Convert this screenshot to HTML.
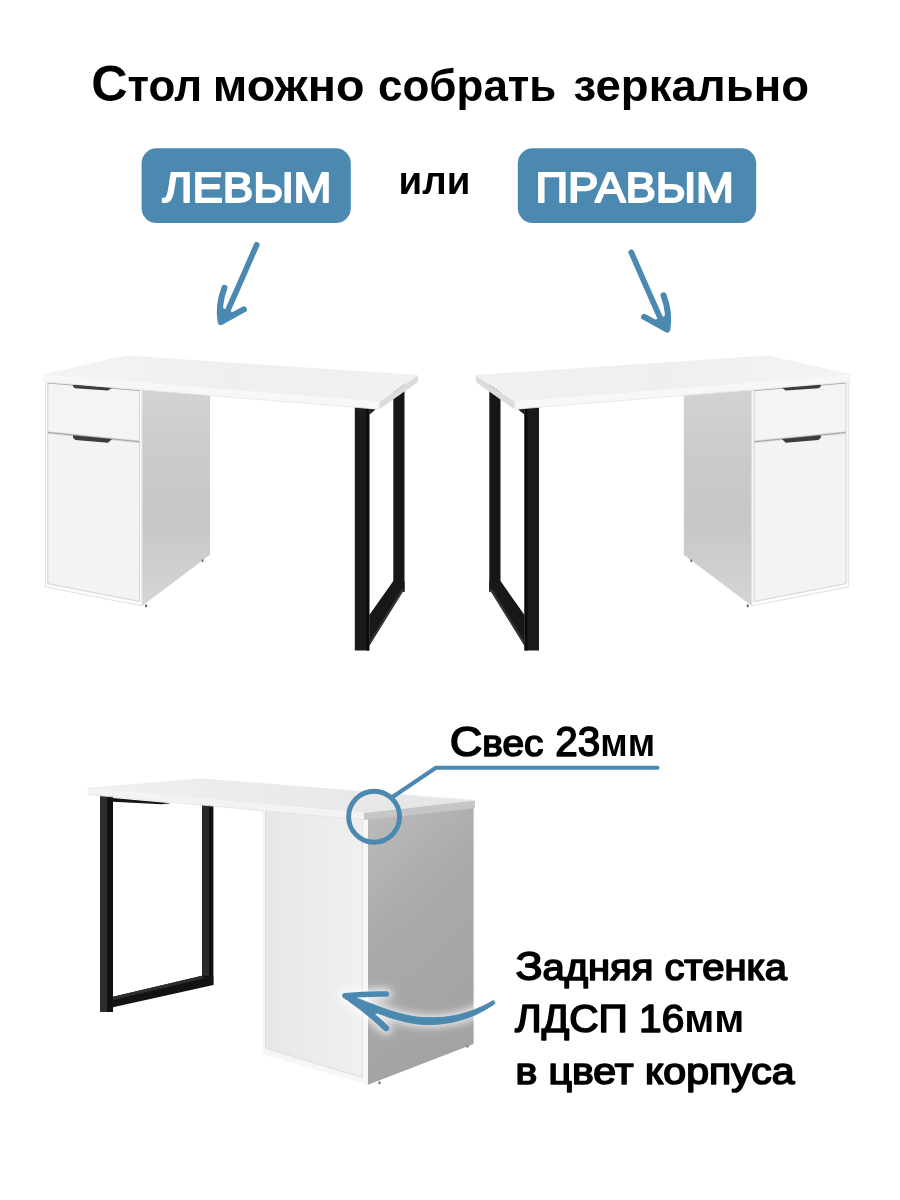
<!DOCTYPE html>
<html lang="ru">
<head>
<meta charset="utf-8">
<title>Стол</title>
<style>
html,body{margin:0;padding:0;background:#fff;}
body{width:900px;height:1200px;overflow:hidden;position:relative;font-family:"Liberation Sans",sans-serif;}
svg{position:absolute;left:0;top:0;display:block;will-change:transform;}
text{font-family:"Liberation Sans",sans-serif;font-weight:700;}
text.sb{font-weight:400;stroke:#fff;stroke-width:2px;stroke-linejoin:round;}
text.md{font-weight:400;stroke:#000;stroke-width:1.6px;stroke-linejoin:round;}
text.md .b{font-weight:700;stroke:none;}
</style>
</head>
<body>
<svg width="900" height="1200" viewBox="0 0 900 1200">
<defs>
  <linearGradient id="gSide" x1="0" y1="0" x2="0" y2="1">
    <stop offset="0" stop-color="#d3d3d3"/><stop offset="0.35" stop-color="#cacaca"/><stop offset="0.62" stop-color="#c7c7c7"/><stop offset="1" stop-color="#d5d5d5"/>
  </linearGradient>
  <linearGradient id="gBack" x1="0" y1="0" x2="0.35" y2="1">
    <stop offset="0" stop-color="#bcbcbc"/><stop offset="0.45" stop-color="#aaaaaa"/><stop offset="1" stop-color="#a3a3a3"/>
  </linearGradient>
  <linearGradient id="gTop" x1="0" y1="0" x2="1" y2="0">
    <stop offset="0" stop-color="#f4f4f4"/><stop offset="0.5" stop-color="#efefef"/><stop offset="1" stop-color="#f1f1f1"/>
  </linearGradient>
  <linearGradient id="gTop2" x1="0" y1="0" x2="1" y2="0">
    <stop offset="0" stop-color="#f1f1f1"/><stop offset="0.5" stop-color="#eaeaea"/><stop offset="1" stop-color="#e5e5e5"/>
  </linearGradient>
  <linearGradient id="gPanel" x1="0" y1="0" x2="1" y2="0">
    <stop offset="0" stop-color="#e7e7e7"/><stop offset="1" stop-color="#f0f0f0"/>
  </linearGradient>
  <filter id="glow" x="-20%" y="-50%" width="140%" height="200%">
    <feGaussianBlur stdDeviation="4"/>
  </filter>

  <!-- desk (left variant) -->
  <g id="desk">
    <!-- back leg + bottom bar + front leg -->
    <polygon points="393.3,392 404.5,384 404.5,591 393.3,591" fill="#161616"/>
    <polygon points="369.3,615 393.3,581 404.5,581 404.5,592 403,592 403,590.5 369.3,645.8" fill="#181818"/>
    <polygon points="369.3,641.5 402,588.5 404.2,589.8 369.3,645.8" fill="#343434"/>
    <rect x="354.8" y="405" width="14.5" height="245.5" fill="#1a1a1a"/>
    <rect x="366.3" y="405" width="3" height="245.5" fill="#0b0b0b"/>
    <polygon points="369.3,408.5 375.8,409.2 369.3,414.8" fill="#1e1e1e"/>
    <!-- side panel -->
    <polygon points="142,388 210,393 210,554.7 142,606" fill="url(#gSide)"/>
    <!-- feet -->
    <rect x="201.8" y="559.5" width="1.6" height="2.6" fill="#666"/>
    <rect x="145.2" y="604.5" width="1.8" height="2.6" fill="#555"/>
    <!-- cabinet front -->
    <polygon points="45.5,380 142,388 142,606 45.5,587" fill="#fbfbfb"/>
    <polygon points="45.5,380 142,388 142,606 45.5,587" fill="none" stroke="#e2e2e2" stroke-width="1"/>
    <!-- drawer & door outlines -->
    <polygon points="47.8,383 139.6,390.5 139.6,441 47.8,431.8" fill="#f4f4f4" stroke="#cbcbcb" stroke-width="0.8"/>
    <polygon points="47.8,433.2 139.6,442.6 139.6,601.5 47.8,583.6" fill="#f3f3f3" stroke="#cbcbcb" stroke-width="0.8"/>
    <polyline points="47.8,383 139.6,390.5" fill="none" stroke="#a8a8a8" stroke-width="0.9"/>
    <polyline points="47.8,432.5 139.6,441.8" fill="none" stroke="#a2a2a2" stroke-width="1.1"/>
    <!-- handles -->
    <polygon points="73,384.2 112,387.7 108,390.6 75,388.3 73,386.6" fill="#3c3c3c"/>
    <polygon points="73,435.2 112,439.1 108,442.7 75.5,439.9 73,437.9" fill="#3c3c3c"/>
    <!-- tabletop -->
    <polygon points="43,375 125.7,356 418,375.5 379.3,401.8" fill="url(#gTop)"/>
    <polygon points="43,375 379.3,401.8 379.3,409.3 43,381.8" fill="#f7f7f7"/>
    <polyline points="43,381.8 379.3,409.3" fill="none" stroke="#e6e6e6" stroke-width="0.8"/>
    <polygon points="379.3,401.8 418,375.5 418,382 379.3,409.3" fill="#dcdcdc"/>
    <polyline points="43,375 125.7,356 418,375.5" fill="none" stroke="#ededed" stroke-width="0.8"/>
  </g>
</defs>

<!-- title -->
<text id="w1" x="91.22" y="100.6" font-size="44" textLength="110.89" lengthAdjust="spacingAndGlyphs" fill="#000"><tspan font-size="50.5">С</tspan>тол</text>
<text id="w2" x="212.69" y="100.6" font-size="44" textLength="151.77" lengthAdjust="spacingAndGlyphs" fill="#000">можно</text>
<text id="w3" x="378.04" y="100.6" font-size="44" textLength="178.39" lengthAdjust="spacingAndGlyphs" fill="#000">собрать</text>
<text id="w4" x="573.51" y="100.6" font-size="44" textLength="235.45" lengthAdjust="spacingAndGlyphs" fill="#000">зеркально</text>

<!-- buttons -->
<rect x="141.6" y="148.3" width="209.2" height="74.8" rx="15" fill="#4c89b0"/>
<text x="162.5" y="202.2" font-size="42.4" textLength="169" lengthAdjust="spacingAndGlyphs" fill="#fff" class="sb">ЛЕВЫМ</text>
<text x="398.6" y="194" font-size="38.5" textLength="71.8" lengthAdjust="spacingAndGlyphs" fill="#000">или</text>
<rect x="517.8" y="148.3" width="238.4" height="74.8" rx="15" fill="#4c89b0"/>
<text x="535.4" y="202.2" font-size="42.4" textLength="198.5" lengthAdjust="spacingAndGlyphs" fill="#fff" class="sb">ПРАВЫМ</text>

<!-- arrows -->
<g id="arrL" fill="none" stroke="#4c89b0" stroke-linecap="round" stroke-linejoin="round">
  <path d="M256.7,244.8 Q241,281 224,319" stroke-width="5.7"/>
  <path d="M224.4,288 Q217.8,305 220.8,322 L243.8,309.4" stroke-width="6.2"/>
  <path d="M222,309 L221.5,320 L233,313.5 Z" fill="#4c89b0" stroke-width="2"/>
</g>
<use href="#arrL" transform="translate(888,7.5) scale(-1,1)"/>

<!-- desks -->
<use href="#desk"/>
<use href="#desk" transform="translate(893.8,0) scale(-1,1)"/>

<!-- bottom desk -->
<g id="desk2">
  <!-- legs -->
  <rect x="202" y="803" width="7.2" height="182" fill="#2a2a2a"/>
  <rect x="209" y="803" width="4.4" height="182" fill="#101010"/>
  <polygon points="113,996.8 202,975.8 213.4,975.8 213.4,985 113,1007.3" fill="#131313"/>
  <polygon points="113,996.8 202,975.8 204.5,978.2 113,1000" fill="#2e2e2e"/>
  <rect x="100" y="794" width="7.2" height="218" fill="#2d2d2d"/>
  <rect x="107" y="794" width="6" height="218" fill="#111"/>
  <polygon points="107,797.4 171,803.2 161.5,804.2 113,801.8" fill="#161616"/>
  <!-- cabinet side (white) -->
  <polygon points="262.5,806 368,816 368,1084.7 262.5,1054" fill="#f6f6f6"/>
  <polygon points="265.5,806 362.3,815.5 362.3,1077.5 265.5,1048.2" fill="url(#gPanel)" stroke="#d6d6d6" stroke-width="0.7"/>
  <!-- back panel (grey) -->
  <polygon points="368,818 473.6,806 473.6,1044 368,1084.7" fill="url(#gBack)"/>
  <rect x="378.5" y="1081.5" width="2" height="2.6" fill="#666"/>
  <rect x="466.5" y="1045" width="2" height="2.6" fill="#777"/>
  <!-- tabletop -->
  <polygon points="87.5,788.5 203,779 475,800.5 363.9,813" fill="url(#gTop2)"/>
  <polygon points="87.5,788.5 363.9,813 363.9,820 87.5,794.6" fill="#f3f3f3"/>
  <polyline points="87.5,794.6 363.9,820" fill="none" stroke="#e2e2e2" stroke-width="0.8"/>
  <polygon points="363.9,813 475,800.5 475,808.3 363.9,820" fill="#c6c6c6"/>
  <polyline points="87.5,788.5 203,779 475,800.5" fill="none" stroke="#eaeaea" stroke-width="1"/>
</g>

<!-- callout -->
<circle cx="374.1" cy="816.8" r="25.5" fill="none" stroke="#4c89b0" stroke-width="4.9"/>
<polyline points="392.5,797 435.8,767.7 657.5,767.7" fill="none" stroke="#4c89b0" stroke-width="4.1" stroke-linecap="round" stroke-linejoin="miter"/>
<text id="w5" x="449.68" y="755.8" font-size="36" textLength="93.72" lengthAdjust="spacingAndGlyphs" fill="#000" class="md"><tspan font-size="42">С</tspan>вес</text>
<text id="w6" x="555.37" y="755.8" font-size="42" textLength="99.77" lengthAdjust="spacingAndGlyphs" fill="#000" class="md">23<tspan class="b" font-size="38.5">мм</tspan></text>

<!-- curved arrow with glow -->
<g fill="none" stroke-linecap="round" stroke-linejoin="round">
  <g stroke="#fff" stroke-width="11" filter="url(#glow)" opacity="0.85">
    <path d="M494,1002 C470,1018 442,1023.5 416,1020.3 C392,1017 366,1005 344.5,996"/>
    <path d="M386.5,994 L344.5,996 M354,1001 L386.5,1028.6"/>
  </g>
  <g stroke="#4c89b0">
    <path d="M493.1,1000.6 L490.0,1002.4 L486.9,1004.1 L483.8,1005.7 L480.7,1007.1 L477.5,1008.5 L474.4,1009.7 L471.2,1010.9 L468.0,1012.0 L464.8,1013.0 L461.6,1014.0 L458.3,1014.8 L455.1,1015.5 L451.9,1016.1 L448.6,1016.6 L445.4,1017.0 L442.1,1017.4 L438.9,1017.6 L435.6,1017.7 L432.4,1017.8 L429.2,1017.7 L426.0,1017.6 L422.8,1017.5 L419.6,1017.3 L416.4,1016.9 L413.5,1016.5 L410.6,1016.0 L407.6,1015.4 L404.6,1014.7 L401.7,1014.0 L398.6,1013.2 L395.6,1012.3 L392.6,1011.4 L389.6,1010.5 L386.6,1009.5 L383.6,1008.4 L380.6,1007.3 L377.7,1006.2 L374.7,1005.1 L371.8,1004.0 L368.9,1002.9 L366.0,1001.8 L363.1,1000.6 L360.3,999.5 L357.6,998.4 L354.9,997.3 L352.2,996.2 L349.6,995.1 L347.0,994.1 L345.0,998.9 L347.5,1000.0 L350.1,1001.2 L352.7,1002.4 L355.4,1003.6 L358.1,1004.8 L360.9,1006.0 L363.7,1007.3 L366.5,1008.5 L369.4,1009.8 L372.4,1011.0 L375.4,1012.2 L378.4,1013.4 L381.4,1014.5 L384.5,1015.6 L387.5,1016.7 L390.6,1017.7 L393.7,1018.7 L396.9,1019.6 L400.0,1020.4 L403.1,1021.2 L406.2,1022.0 L409.3,1022.6 L412.4,1023.2 L415.6,1023.7 L418.9,1024.1 L422.3,1024.3 L425.7,1024.5 L429.1,1024.6 L432.5,1024.5 L435.9,1024.3 L439.4,1024.1 L442.8,1023.7 L446.2,1023.2 L449.6,1022.7 L453.0,1022.0 L456.4,1021.2 L459.8,1020.3 L463.1,1019.4 L466.5,1018.3 L469.8,1017.1 L473.1,1015.8 L476.3,1014.4 L479.5,1012.8 L482.7,1011.1 L485.8,1009.4 L488.9,1007.5 L492.0,1005.5 L494.9,1003.4 Z" fill="#4c89b0" stroke-width="1"/>
    <path d="M386.3,994 Q365,993.6 345,995.8" stroke-width="5.6"/>
    <path d="M351,999.5 Q369,1012 386.2,1028.2" stroke-width="6.2"/>
    <path d="M349,997.5 L380,1011 L371,1015 Z" fill="#4c89b0" stroke-width="2"/>
  </g>
</g>

<!-- bottom text -->
<text x="515.4" y="980.2" font-size="36" textLength="271.6" lengthAdjust="spacingAndGlyphs" fill="#000" class="md"><tspan font-size="40.5">З</tspan>адняя стенка</text>
<text x="515" y="1032.1" font-size="38.5" textLength="229.4" lengthAdjust="spacingAndGlyphs" fill="#000" class="md">ЛДСП 16<tspan class="b" font-size="38.5">мм</tspan></text>
<text x="515.4" y="1084.2" font-size="36" textLength="279.1" lengthAdjust="spacingAndGlyphs" fill="#000" class="md">в цвет корпуса</text>
</svg>
</body>
</html>
